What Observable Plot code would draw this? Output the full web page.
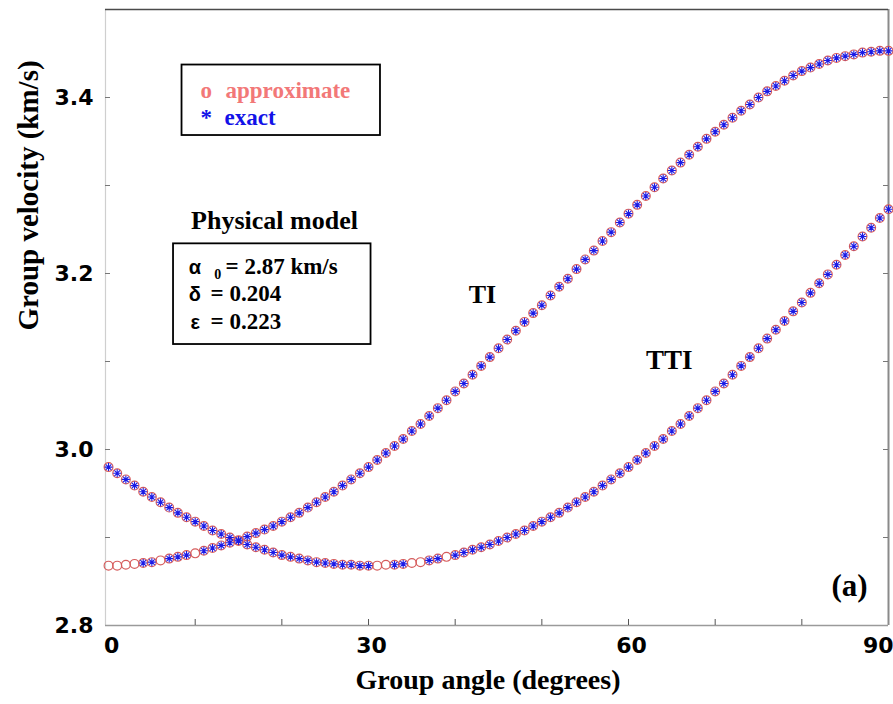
<!DOCTYPE html>
<html>
<head>
<meta charset="utf-8">
<script src="https://cdn.jsdelivr.net/npm/d3@7"></script>
<script src="https://cdn.jsdelivr.net/npm/@observablehq/plot@0.6"></script>
<style>
  html, body { margin: 0; padding: 0; background: #fff; }
  #chart svg { display: block; }
</style>
</head>
<body>
<div id="chart"></div>
<script>
// Group angle (degrees) of each sample
const angles = [
  0, 1, 2, 3, 4, 5, 6, 7, 8, 9,
  10, 11, 12, 13, 14, 15, 16, 17, 18, 19,
  20, 21, 22, 23, 24, 25, 26, 27, 28, 29,
  30, 31, 32, 33, 34, 35, 36, 37, 38, 39,
  40, 41, 42, 43, 44, 45, 46, 47, 48, 49,
  50, 51, 52, 53, 54, 55, 56, 57, 58, 59,
  60, 61, 62, 63, 64, 65, 66, 67, 68, 69,
  70, 71, 72, 73, 74, 75, 76, 77, 78, 79,
  80, 81, 82, 83, 84, 85, 86, 87, 88, 89,
  90
];

// TI medium, group velocity (km/s), approximate expression
const tiApprox = [
  2.868, 2.868, 2.869, 2.870, 2.871, 2.872, 2.874, 2.876, 2.878, 2.880,
  2.882, 2.885, 2.888, 2.891, 2.894, 2.897, 2.901, 2.905, 2.909, 2.913,
  2.918, 2.923, 2.928, 2.934, 2.940, 2.946, 2.952, 2.959, 2.966, 2.973,
  2.980, 2.988, 2.996, 3.004, 3.012, 3.021, 3.029, 3.038, 3.047, 3.056,
  3.066, 3.075, 3.085, 3.095, 3.105, 3.115, 3.125, 3.135, 3.145, 3.155,
  3.164, 3.175, 3.185, 3.194, 3.205, 3.216, 3.226, 3.237, 3.247, 3.258,
  3.268, 3.278, 3.288, 3.298, 3.308, 3.317, 3.326, 3.335, 3.344, 3.353,
  3.361, 3.369, 3.377, 3.385, 3.392, 3.400, 3.407, 3.413, 3.419, 3.425,
  3.430, 3.434, 3.438, 3.442, 3.445, 3.447, 3.449, 3.451, 3.452, 3.453,
  3.453
];

// TI medium, exact group velocity (null where no exact sample falls)
const tiExact = [
  null, null, null, null, 2.871, 2.872, null, 2.876, 2.878, 2.880,
  null, 2.885, 2.888, 2.891, 2.894, 2.897, 2.901, 2.905, 2.909, 2.913,
  2.918, 2.923, 2.928, 2.934, 2.940, 2.946, 2.952, 2.959, 2.966, 2.973,
  2.980, 2.988, 2.996, 3.004, 3.012, 3.021, 3.029, 3.038, 3.047, 3.056,
  3.066, 3.075, 3.085, 3.095, 3.105, 3.115, 3.125, 3.135, 3.145, 3.155,
  3.164, 3.175, 3.185, 3.194, 3.205, 3.216, 3.226, 3.237, 3.247, 3.258,
  3.268, 3.278, 3.288, 3.298, 3.308, 3.317, 3.326, 3.335, 3.344, 3.353,
  3.361, 3.369, 3.377, 3.385, 3.392, 3.400, 3.407, 3.413, 3.419, 3.425,
  3.430, 3.434, 3.438, 3.442, 3.445, 3.447, 3.449, 3.451, 3.452, 3.453,
  3.453
];

// TTI medium, group velocity (km/s), approximate expression
const ttiApprox = [
  2.980, 2.973, 2.966, 2.959, 2.952, 2.946, 2.940, 2.934, 2.928, 2.923,
  2.918, 2.913, 2.908, 2.904, 2.900, 2.896, 2.892, 2.889, 2.886, 2.883,
  2.880, 2.878, 2.876, 2.874, 2.872, 2.871, 2.870, 2.869, 2.869, 2.868,
  2.868, 2.868, 2.869, 2.869, 2.870, 2.871, 2.872, 2.874, 2.876, 2.878,
  2.880, 2.883, 2.886, 2.889, 2.892, 2.896, 2.900, 2.904, 2.908, 2.913,
  2.918, 2.923, 2.928, 2.934, 2.940, 2.946, 2.952, 2.959, 2.966, 2.973,
  2.980, 2.988, 2.996, 3.004, 3.012, 3.021, 3.029, 3.038, 3.047, 3.056,
  3.066, 3.075, 3.085, 3.095, 3.105, 3.115, 3.126, 3.136, 3.146, 3.157,
  3.167, 3.178, 3.189, 3.199, 3.210, 3.221, 3.231, 3.242, 3.252, 3.263,
  3.273
];

// TTI medium, exact group velocity
const ttiExact = [
  2.980, 2.973, 2.966, 2.959, 2.952, 2.946, 2.940, 2.934, 2.928, 2.923,
  2.918, 2.913, 2.908, 2.904, 2.900, 2.896, 2.892, 2.889, 2.886, 2.883,
  2.880, 2.878, 2.876, 2.874, 2.872, 2.871, 2.870, 2.869, 2.869, 2.868,
  2.868, null, null, 2.869, 2.870, null, null, 2.874, 2.876, null,
  2.880, 2.883, 2.886, 2.889, 2.892, 2.896, 2.900, 2.904, 2.908, 2.913,
  2.918, 2.923, 2.928, 2.934, 2.940, 2.946, 2.952, 2.959, 2.966, 2.973,
  2.980, 2.988, 2.996, 3.004, 3.012, 3.021, 3.029, 3.038, 3.047, 3.056,
  3.066, 3.075, 3.085, 3.095, 3.105, 3.115, 3.126, 3.136, 3.146, 3.157,
  3.167, 3.178, 3.189, 3.199, 3.210, 3.221, 3.231, 3.242, 3.252, 3.263,
  3.273
];

// Axis ticks
const xLabelTicks = [0, 30, 60];
const xLastTick = [90];
const xMinorTicks = [10, 20, 30, 40, 50, 60, 70, 80];
const yLabelTicks = [2.8, 3.0, 3.2, 3.4];
const yMinorTicks = [2.9, 3.0, 3.1, 3.2, 3.3, 3.4];

const xDomain = [-0.35, 90];
const yDomain = [2.8, 3.5];

const approxColor = "#d65c5c";
const exactColor = "#1a1ae6";
const serif = "'Liberation Serif', 'Times New Roman', serif";
const sans = "'DejaVu Sans', sans-serif";
const greek = "'Liberation Sans', Arial, sans-serif";

// MATLAB-style '*' marker: four crossing strokes
const asterisk = {
  draw(context, size) {
    const r = Math.sqrt(size / Math.PI);
    const d = r * Math.SQRT1_2;
    context.moveTo(-r, 0); context.lineTo(r, 0);
    context.moveTo(0, -r); context.lineTo(0, r);
    context.moveTo(-d, -d); context.lineTo(d, d);
    context.moveTo(-d, d); context.lineTo(d, -d);
  }
};

const rows = (values) => angles.map((a, i) => ({angle: a, v: values[i]}));

const frameW = 893 - 105 - 5;   // inner width in px
const frameH = 704 - 9 - 79;    // inner height in px

const chart = Plot.plot({
  width: 893,
  height: 704,
  marginLeft: 105,
  marginRight: 5,
  marginTop: 9,
  marginBottom: 79,
  style: {background: "#fff", color: "#000", fontFamily: sans},
  x: {domain: xDomain},
  y: {domain: yDomain},
  marks: [
    // frame edges
    Plot.ruleX([xDomain[0]], {stroke: "#cfcfcf", strokeWidth: 1.2}),
    Plot.ruleX([xDomain[1]], {stroke: "#8a8a8a", strokeWidth: 2}),
    Plot.ruleY([yDomain[0]], {stroke: "#9a9a9a", strokeWidth: 1.6}),
    Plot.ruleY([yDomain[1]], {stroke: "#4a4a4a", strokeWidth: 1.4}),

    // inward tick marks
    Plot.tickY(yMinorTicks, {y: d => d, insetRight: frameW - 5, stroke: "#777"}),
    Plot.tickY(yMinorTicks, {y: d => d, insetLeft: frameW - 5, stroke: "#777"}),
    Plot.tickX(xMinorTicks, {x: d => d, insetTop: frameH - 6, stroke: "#555"}),

    // tick labels
    Plot.axisY(yLabelTicks, {
      tickSize: 0, tickPadding: 12, tickFormat: d3.format(".1f"), label: null,
      fontSize: 22, fontWeight: "bold", fontFamily: sans
    }),
    Plot.axisX(xLabelTicks, {
      tickSize: 0, tickPadding: 12, label: null, dx: 3,
      fontSize: 22, fontWeight: "bold", fontFamily: sans
    }),
    Plot.axisX(xLastTick, {
      tickSize: 0, tickPadding: 12, label: null, dx: 5, textAnchor: "end",
      fontSize: 22, fontWeight: "bold", fontFamily: sans
    }),

    // axis titles
    Plot.text(["Group angle (degrees)"], {
      frameAnchor: "bottom", dx: -9, dy: 63,
      fontFamily: serif, fontWeight: "bold", fontSize: 28
    }),
    Plot.text(["Group velocity (km/s)"], {
      frameAnchor: "left", rotate: -90, dx: -77, dy: 13,
      fontFamily: serif, fontWeight: "bold", fontSize: 29
    }),

    // approximate (circles) and exact (asterisks)
    Plot.dot(rows(tiApprox), {x: "angle", y: "v", r: 4.4, stroke: approxColor, strokeWidth: 1.2, fill: "none"}),
    Plot.dot(rows(ttiApprox), {x: "angle", y: "v", r: 4.4, stroke: approxColor, strokeWidth: 1.2, fill: "none"}),
    Plot.dot(rows(tiExact), {x: "angle", y: "v", r: 4, symbol: asterisk, stroke: exactColor, strokeWidth: 1.1, fill: "none"}),
    Plot.dot(rows(ttiExact), {x: "angle", y: "v", r: 4, symbol: asterisk, stroke: exactColor, strokeWidth: 1.1, fill: "none"}),

    // curve names
    Plot.text(["TI"], {x: 43.15, y: 3.167, lineAnchor: "bottom", fontFamily: serif, fontWeight: "bold", fontSize: 26}),
    Plot.text(["TTI"], {x: 64.7, y: 3.091, lineAnchor: "bottom", fontFamily: serif, fontWeight: "bold", fontSize: 27}),
    Plot.text(["(a)"], {x: 85.5, y: 2.833, lineAnchor: "bottom", fontFamily: serif, fontWeight: "bold", fontSize: 31}),

    // legend box
    Plot.rect([0], {x1: 8.48, x2: 31.38, y1: 3.3568, y2: 3.4369, fill: "none", stroke: "#000", strokeWidth: 1.8}),
    Plot.text(["o"], {x: 11.27, y: 3.400, lineAnchor: "bottom", fill: "#f27878", fontFamily: serif, fontWeight: "bold", fontSize: 23}),
    Plot.text(["approximate"], {x: 13.5, y: 3.3994, lineAnchor: "bottom", textAnchor: "start", fill: "#f27878", fontFamily: serif, fontWeight: "bold", fontSize: 23}),
    Plot.text(["*"], {x: 11.27, y: 3.3693, lineAnchor: "bottom", fill: "#1212e8", fontFamily: serif, fontWeight: "bold", fontSize: 23}),
    Plot.text(["exact"], {x: 13.38, y: 3.3693, lineAnchor: "bottom", textAnchor: "start", fill: "#1212e8", fontFamily: serif, fontWeight: "bold", fontSize: 23}),

    // physical model box
    Plot.text(["Physical model"], {x: 19.15, y: 3.2508, lineAnchor: "bottom", fontFamily: serif, fontWeight: "bold", fontSize: 26}),
    Plot.rect([0], {x1: 7.5, x2: 30.29, y1: 3.1193, y2: 3.2337, fill: "none", stroke: "#000", strokeWidth: 1.8}),
    Plot.text(["α"], {x: 9.26, y: 3.1989, lineAnchor: "bottom", textAnchor: "start", fontFamily: greek, fontWeight: "bold", fontSize: 20}),
    Plot.text(["0"], {x: 12.2, y: 3.1932, lineAnchor: "bottom", textAnchor: "start", fontFamily: serif, fontWeight: "bold", fontSize: 14}),
    Plot.text(["= 2.87 km/s"], {x: 13.5, y: 3.1989, lineAnchor: "bottom", textAnchor: "start", fontFamily: serif, fontWeight: "bold", fontSize: 23}),
    Plot.text(["δ"], {x: 9.26, y: 3.1685, lineAnchor: "bottom", textAnchor: "start", fontFamily: greek, fontWeight: "bold", fontSize: 20}),
    Plot.text(["= 0.204"], {x: 11.77, y: 3.1685, lineAnchor: "bottom", textAnchor: "start", fontFamily: serif, fontWeight: "bold", fontSize: 23}),
    Plot.text(["ε"], {x: 9.46, y: 3.1374, lineAnchor: "bottom", textAnchor: "start", fontFamily: greek, fontWeight: "bold", fontSize: 20}),
    Plot.text(["= 0.223"], {x: 11.77, y: 3.1374, lineAnchor: "bottom", textAnchor: "start", fontFamily: serif, fontWeight: "bold", fontSize: 23})
  ]
});

document.getElementById("chart").appendChild(chart);
</script>
</body>
</html>
